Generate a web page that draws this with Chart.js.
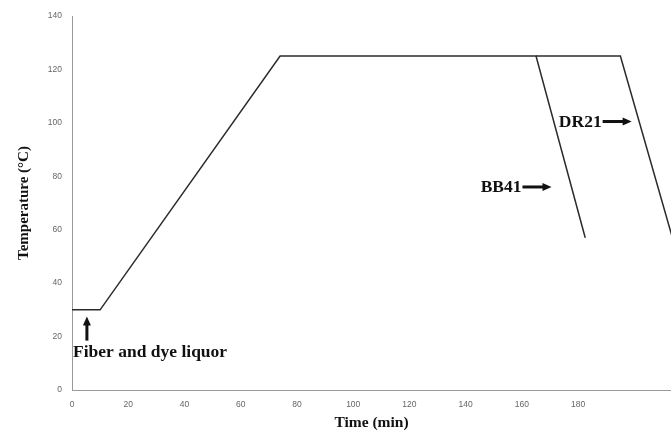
<!DOCTYPE html>
<html>
<head>
<meta charset="utf-8">
<title>Dyeing temperature profile</title>
<script src="https://cdn.jsdelivr.net/npm/chart.js@4/dist/chart.umd.min.js"></script>
<style>
  html, body { margin: 0; padding: 0; background: #fff; }
  #wrap { width: 671px; height: 434px; }
</style>
</head>
<body>
<div id="wrap"><canvas id="profileChart" width="671" height="434"></canvas></div>
<script>
// temperature programme (min, °C)
const bb41Time = [0, 10, 74, 165, 182.5];
const bb41Temp = [30, 30, 125, 125, 57];
const dr21Time = [165, 195, 213.5];
const dr21Temp = [125, 125, 57];

const xTicks = [0, 20, 40, 60, 80, 100, 120, 140, 160, 180];
const yTicks = [0, 20, 40, 60, 80, 100, 120, 140];

// callouts: label, arrow tip (min, °C)
const noteText = ['BB41', 'DR21'];
const noteTipX = [170.5, 199];
const noteTipY = [76, 100.5];
const startText = 'Fiber and dye liquor';
const startArrowX = 5.3;
const startArrowFrom = 18.5;
const startArrowTo = 27.5;
const startTextY = 14.2;

const lineColor = '#2b2b2b';
const serif = '"Liberation Serif", "Times New Roman", serif';
const tickFont = { family: '"Liberation Sans", Arial, sans-serif', size: 8.5 };

function toPoints(xs, ys) { return xs.map((x, i) => ({ x: x, y: ys[i] })); }

function arrowRight(ctx, x0, x1, y) {
  ctx.fillRect(x0, y - 1.5, x1 - x0 - 7, 3);
  ctx.beginPath();
  ctx.moveTo(x1, y);
  ctx.lineTo(x1 - 9, y - 4);
  ctx.lineTo(x1 - 9, y + 4);
  ctx.closePath();
  ctx.fill();
}

function arrowUp(ctx, x, y0, y1) {
  ctx.fillRect(x - 1.5, y1 + 7, 3, y0 - y1 - 7);
  ctx.beginPath();
  ctx.moveTo(x, y1);
  ctx.lineTo(x - 4, y1 + 9);
  ctx.lineTo(x + 4, y1 + 9);
  ctx.closePath();
  ctx.fill();
}

const calloutPlugin = {
  id: 'callouts',
  afterDatasetsDraw(chart) {
    const ctx = chart.ctx;
    const xs = chart.scales.x, ys = chart.scales.y;
    ctx.save();
    ctx.fillStyle = '#111';
    ctx.font = 'bold 17.5px ' + serif;
    ctx.textBaseline = 'middle';

    noteText.forEach((t, i) => {
      const tipX = xs.getPixelForValue(noteTipX[i]);
      const y = ys.getPixelForValue(noteTipY[i]);
      const x0 = tipX - 29;
      ctx.textAlign = 'right';
      ctx.fillText(t, x0 - 1, y + 1);
      arrowRight(ctx, x0, tipX, y);
    });

    const ax = xs.getPixelForValue(startArrowX);
    arrowUp(ctx, ax, ys.getPixelForValue(startArrowFrom), ys.getPixelForValue(startArrowTo));
    ctx.textAlign = 'left';
    ctx.fillText(startText, xs.getPixelForValue(0) + 1, ys.getPixelForValue(startTextY));
    ctx.restore();
  }
};

new Chart(document.getElementById('profileChart'), {
  type: 'line',
  data: {
    datasets: [
      { label: 'BB41', data: toPoints(bb41Time, bb41Temp), borderColor: lineColor, borderWidth: 1.5, pointRadius: 0, tension: 0 },
      { label: 'DR21', data: toPoints(dr21Time, dr21Temp), borderColor: lineColor, borderWidth: 1.5, pointRadius: 0, tension: 0 }
    ]
  },
  options: {
    responsive: false,
    animation: false,
    layout: { padding: { top: 16, right: 0, left: 0, bottom: 0 } },
    plugins: { legend: { display: false }, tooltip: { enabled: false } },
    scales: {
      x: {
        type: 'linear',
        min: 0,
        max: 213,
        afterBuildTicks: s => { s.ticks = xTicks.map(v => ({ value: v })); },
        afterFit: s => { s.height = 44; },
        grid: { display: false, drawOnChartArea: false, drawTicks: true, tickLength: 4, color: '#999' },
        border: { color: '#999', width: 1 },
        ticks: { color: '#666', padding: 6, font: tickFont, maxRotation: 0 },
        title: { display: true, text: 'Time (min)', color: '#111', font: { family: serif, size: 15.5, weight: 'bold' }, padding: { top: 0, bottom: 2 } }
      },
      y: {
        min: 0,
        max: 140,
        afterBuildTicks: s => { s.ticks = yTicks.map(v => ({ value: v })); },
        afterFit: s => { s.width = 72; },
        grid: { display: false, drawOnChartArea: false, drawTicks: true, tickLength: 4, color: '#999' },
        border: { color: '#999', width: 1 },
        ticks: { color: '#666', padding: 6, font: tickFont },
        title: { display: true, text: 'Temperature (°C)', color: '#111', font: { family: serif, size: 15, weight: 'bold' }, padding: { top: 15, bottom: 0 } }
      }
    }
  },
  plugins: [calloutPlugin]
});
</script>
</body>
</html>
